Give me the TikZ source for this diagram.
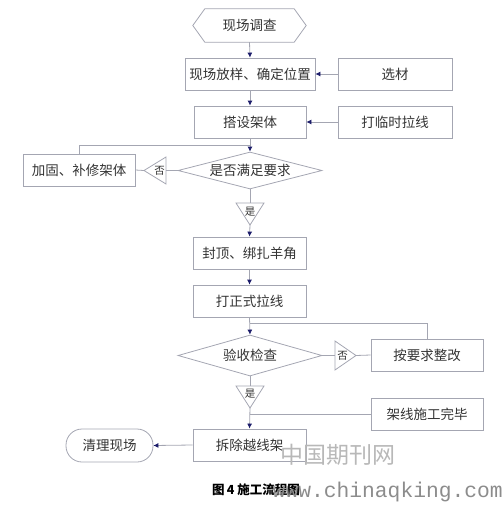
\documentclass[tikz,border=0pt]{standalone}
\usepackage{fontspec}
\setmainfont{Noto Sans CJK SC}
\newfontfamily\cjk{Noto Sans CJK SC}
\setmonofont{Liberation Mono}
\usetikzlibrary{shapes.geometric,arrows.meta}
\definecolor{linec}{HTML}{A4A6B2}
\definecolor{arrc}{HTML}{1C1C6A}
\definecolor{txtc}{HTML}{333333}
\tikzset{
  box/.style={draw=linec, line width=0.8pt, rectangle, minimum width=#1, minimum height=32pt, inner sep=0pt, text=txtc, font=\fontsize{13.5}{14}\selectfont},
  box/.default=113pt,
  dia/.style={draw=linec, line width=0.8pt, diamond, aspect=3.5, inner sep=0pt, text=txtc, font=\fontsize{13.5}{14}\selectfont},
  term/.style={draw=linec, line width=0.8pt, rectangle, rounded corners=16pt, minimum width=87pt, minimum height=33pt, inner sep=0pt, text=txtc, font=\fontsize{13.5}{14}\selectfont},
  conn/.style={draw=linec, line width=0.8pt},
  arr/.style={conn, -{Latex[length=5pt,width=5pt,color=arrc]}},
  tri/.style={draw=linec, line width=0.8pt},
  trilab/.style={text=txtc, font=\fontsize{10.5}{11}\selectfont, inner sep=0pt},
}
\begin{document}
\begin{tikzpicture}[x=1pt,y=-1pt]
\useasboundingbox (0,0) rectangle (503,509);
% hexagon start
\node[text=txtc, font=\fontsize{13.5}{14}\selectfont, minimum width=113pt, minimum height=33pt, inner sep=0pt] (n0) at (249.5,25.5) {现场调查};
\draw[conn] (n0.west) -- ([xshift=12pt]n0.north west) -- ([xshift=-12pt]n0.north east) -- (n0.east) -- ([xshift=-12pt]n0.south east) -- ([xshift=12pt]n0.south west) -- cycle;

\node[box=130pt] (n1) at (250,74) {现场放样、确定位置};
\node[box=114pt] (xc) at (395,74) {选材};
\node[box=112pt] (n2) at (250,122) {搭设架体};
\node[box=114pt] (ls) at (395,122) {打临时拉线};
\node[box=112pt] (jg) at (79,170) {加固、补修架体};
\node[dia, minimum width=144pt, minimum height=37pt] (d1) at (250,170.5) {是否满足要求};
\node[box=113pt] (n4) at (249.5,253) {封顶、绑扎羊角};
\node[box=113pt] (n5) at (249.5,301) {打正式拉线};
\node[dia, minimum width=144pt, minimum height=41pt] (d2) at (250,355.5) {验收检查};
\node[box=112pt] (zg) at (427,355) {按要求整改};
\node[box=112pt] (wb) at (427,414) {架线施工完毕};
\node[box=113pt] (n6) at (249.5,445) {拆除越线架};
\node[term] (qc) at (109.5,445.5) {清理现场};

% triangles
\coordinate (t1b) at (166,170.5); \coordinate (t1a) at (144,170.5);
\draw[tri] (t1a) -- (166,157) -- (166,184) -- cycle;
\node[trilab] (t1l) at (159.5,170.5) {否};
\coordinate (t2b) at (250,203); \coordinate (t2a) at (250,225);
\draw[tri] (236,203) -- (264,203) -- (t2a) -- cycle;
\node[trilab] (t2l) at (250,211.5) {是};
\coordinate (t3b) at (335,355.5); \coordinate (t3a) at (356,355.5);
\draw[tri] (335,341) -- (t3a) -- (335,370) -- cycle;
\node[trilab] (t3l) at (342.5,355.5) {否};
\coordinate (t4b) at (250,386); \coordinate (t4a) at (250,408);
\draw[tri] (236,386) -- (264,386) -- (t4a) -- cycle;
\node[trilab] (t4l) at (250,394) {是};

\coordinate (j1) at (250,145);
\coordinate (j2) at (250,323);
\coordinate (j3) at (250,414);

% connectors
\draw[arr] (n0.south) -- (n1.north);
\draw[arr] (xc.west) -- (n1.east);
\draw[arr] (n1.south) -- (n2.north);
\draw[arr] (ls.west) -- (n2.east);
\draw[arr] (n2.south) -- (d1.north);
\draw[conn] (jg.north) |- (j1);
\draw[conn] (d1.west) -- (t1b);
\draw[conn] (t1a) -- (jg.east);
\draw[conn] (d1.south) -- (t2b);
\draw[arr] (t2a) -- (n4.north);
\draw[arr] (n4.south) -- (n5.north);
\draw[arr] (n5.south) -- (d2.north);
\draw[conn] (zg.north) |- (j2);
\draw[conn] (d2.east) -- (t3b);
\draw[conn] (t3a) -- (zg.west);
\draw[conn] (d2.south) -- (t4b);
\draw[arr] (t4a) -- (n6.north);
\draw[conn] (wb.west) -- (j3);
\draw[arr] (n6.west) -- (qc.east);

% watermark
\node[text=black!28, font=\fontsize{23}{24}\selectfont, inner sep=0pt] (wm1) at (338,455) {中国期刊网};
% caption
\node[text=black, font=\bfseries\fontsize{12.5}{13}\selectfont, inner sep=0pt] (cap) at (256,490) {图\,4 施工流程图};
\node[text=black!45, font=\ttfamily\fontsize{21.3}{22}\selectfont, inner sep=0pt, anchor=east] (wm2) at (503,492) {www.chinaqking.com};
\end{tikzpicture}
\end{document}
